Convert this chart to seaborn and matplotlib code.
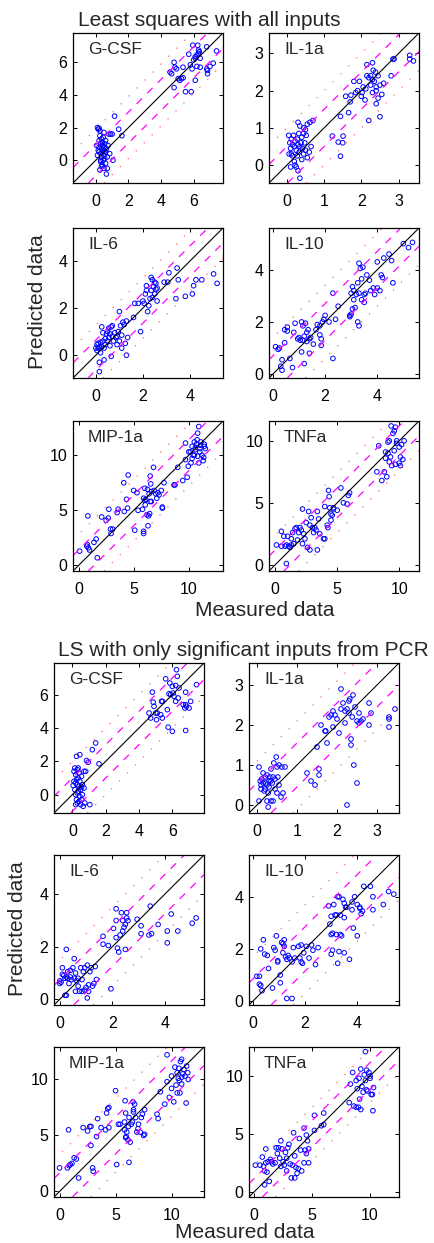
import numpy as np
import pandas as pd
import matplotlib.pyplot as plt
import seaborn as sns

## measured vs predicted cytokine levels
## each array is (measured, predicted) pairs

# --- Least squares with all inputs ---
gcsf_all = np.array([
    (0.05, 0.9), (0.1, 2.0), (0.15, 1.9), (0.2, 1.95), (0.25, 1.8), (0.1, 0.3), (0.15, 0.6), (0.2, 0.8),
    (0.2, 1.2), (0.25, 1.5), (0.3, 1.0), (0.3, 0.4), (0.3, -0.1), (0.35, 0.7), (0.35, 1.3), (0.35, 0.2),
    (0.4, 0.9), (0.4, 0.5), (0.4, -0.3), (0.4, 1.1), (0.45, 0.0), (0.45, 0.6), (0.45, 1.4), (0.5, 0.3),
    (0.5, 0.8), (0.5, -0.5), (0.55, 1.0), (0.55, 0.1), (0.6, 0.5), (0.6, 1.2), (0.6, -0.2), (0.65, 0.7),
    (0.65, -0.85), (0.7, 0.2), (0.7, -0.5), (0.75, 0.9), (0.8, 1.6), (0.85, 0.4), (0.9, 1.6), (1.0, 1.6),
    (1.05, 0.0), (1.15, 2.7), (1.4, 1.9), (1.6, 1.5), (0.25, -0.6), (0.3, 0.0), (0.5, 1.7), (0.2, 0.5),
    (0.55, 0.55), (0.35, -0.4),
    (4.55, 5.4), (4.65, 5.3), (4.8, 6.0), (4.85, 5.7), (4.8, 4.45), (4.95, 5.6), (5.05, 5.0), (5.15, 4.9),
    (5.25, 5.0), (5.35, 5.05), (5.35, 5.7), (5.5, 4.2), (5.7, 6.5), (5.8, 5.85), (5.85, 4.2), (5.9, 5.6),
    (5.95, 7.05), (6.0, 6.15), (6.1, 6.25), (6.1, 6.35), (6.2, 6.45), (6.25, 7.05), (6.3, 6.55), (6.35, 6.65),
    (6.3, 6.75), (6.2, 5.75), (6.4, 5.7), (6.1, 4.9), (6.4, 6.25), (6.8, 6.95), (6.8, 5.6), (6.85, 5.5),
    (6.85, 5.3), (7.0, 5.75), (7.2, 5.95), (7.4, 6.7)])

il1a_all = np.array([
    (0.05, 0.8), (0.08, 0.6), (0.1, 0.45), (0.12, 0.7), (0.12, 0.3), (0.15, 0.55), (0.15, 0.25), (0.18, 0.8),
    (0.2, 0.5), (0.2, 0.1), (0.22, 0.65), (0.25, 0.4), (0.25, -0.05), (0.28, 0.7), (0.28, 0.25), (0.3, 1.15),
    (0.3, 0.55), (0.3, -0.15), (0.32, 0.85), (0.33, 0.35), (0.35, -0.35), (0.35, 1.05), (0.38, 0.6), (0.4, 0.15),
    (0.4, 0.75), (0.42, 0.45), (0.45, 0.85), (0.45, 0.3), (0.48, 0.6), (0.5, 0.4), (0.5, 0.95), (0.52, 0.8),
    (0.55, 0.2), (0.55, 1.1), (0.6, 0.35), (0.62, 1.15), (0.65, 0.5), (0.7, 1.2), (0.1, -0.05), (0.22, 0.0),
    (0.06, 0.3), (0.35, 0.5), (0.45, 1.0),
    (1.22, 0.78), (1.38, 0.62), (1.51, 0.78), (1.5, 0.6), (1.44, 0.24), (1.44, 1.31), (1.58, 1.85), (1.66, 1.41),
    (1.7, 1.7), (1.72, 1.88), (1.8, 2.25), (1.85, 1.95), (1.9, 2.0), (1.95, 2.25), (2.0, 1.85), (2.02, 1.95),
    (2.05, 2.1), (2.1, 1.75), (2.12, 2.05), (2.15, 2.7), (2.2, 2.35), (2.2, 1.2), (2.25, 2.4), (2.25, 2.15),
    (2.3, 2.75), (2.3, 2.3), (2.32, 2.55), (2.35, 2.25), (2.38, 2.5), (2.4, 2.1), (2.4, 1.65), (2.45, 2.4),
    (2.45, 1.8), (2.5, 1.3), (2.5, 2.15), (2.55, 1.9), (2.6, 2.2), (2.4, 2.0), (2.8, 2.4), (2.85, 2.85),
    (2.88, 2.85), (3.3, 2.95), (3.3, 2.85), (3.4, 2.8), (2.3, 1.95), (2.15, 2.4)])

il6_all = np.array([
    (0.0, 0.3), (0.05, 0.45), (0.05, 0.2), (0.1, 0.5), (0.1, 0.3), (0.15, 0.35), (0.2, 0.55), (0.2, 0.1),
    (0.25, 1.2), (0.25, 0.35), (0.3, 0.95), (0.3, 0.6), (0.35, 0.3), (0.4, 0.7), (0.4, 0.45), (0.45, 0.9),
    (0.5, 1.0), (0.5, 0.6), (0.55, 1.15), (0.55, 0.75), (0.6, 0.9), (0.6, 0.4), (0.65, 1.2), (0.65, -0.05),
    (0.7, 0.8), (0.7, 1.25), (0.75, 0.6), (0.8, 0.95), (0.85, 0.75), (0.9, 0.8), (0.9, 0.45), (0.95, 1.0),
    (1.0, 0.6), (1.05, 1.25), (1.1, 0.85), (1.1, 0.3), (1.15, 1.4), (1.2, 1.3), (1.25, 0.5), (1.3, 1.45),
    (1.3, 0.0), (1.35, 0.75), (1.0, 1.85), (0.15, -0.3), (0.15, -0.7), (0.35, -0.2),
    (1.6, 1.6), (1.65, 2.2), (1.8, 2.2), (1.9, 1.0), (2.0, 2.3), (2.05, 2.2), (2.1, 2.6), (2.15, 2.95),
    (2.15, 2.75), (2.2, 1.85), (2.25, 2.1), (2.3, 2.4), (2.35, 3.3), (2.35, 2.75), (2.4, 3.2), (2.4, 2.45),
    (2.45, 2.9), (2.5, 3.1), (2.5, 2.6), (2.55, 2.8), (2.55, 3.05), (2.6, 2.3), (2.6, 2.85), (2.9, 3.1),
    (3.05, 3.1), (3.1, 3.5), (3.4, 2.4), (3.45, 3.7), (3.5, 3.2), (3.8, 2.5), (4.1, 2.6), (4.15, 2.95),
    (4.25, 3.2), (4.5, 3.2), (5.0, 3.45), (5.15, 3.05)])

il10_all = np.array([
    (0.1, 1.05), (0.2, 0.95), (0.25, 1.0), (0.3, 0.3), (0.35, 0.15), (0.35, 0.55), (0.45, 1.2), (0.45, 1.7),
    (0.55, 1.65), (0.55, 1.8), (0.65, 0.6), (0.75, 0.25), (0.8, 1.6), (0.85, 1.95), (0.95, 1.35), (1.0, 1.4),
    (1.05, 1.3), (1.1, 2.0), (1.1, 0.85), (1.15, 1.85), (1.15, 1.3), (1.2, 1.45), (1.2, 0.4), (1.25, 1.95),
    (1.3, 1.6), (1.3, 1.25), (1.35, 1.7), (1.4, 0.8), (1.4, 1.35), (1.45, 1.4), (1.55, 1.15), (1.65, 1.7),
    (1.7, 1.9), (1.8, 1.85), (1.8, 1.5), (1.85, 1.1), (1.85, 1.35), (1.9, 2.0), (1.95, 2.1), (2.0, 2.25),
    (2.15, 2.0), (2.3, 3.1), (2.3, 0.6), (2.4, 2.1), (2.5, 2.6), (2.95, 2.2), (3.0, 3.1), (3.0, 2.3),
    (3.05, 3.35), (3.05, 2.5), (3.1, 2.85), (3.1, 3.2), (3.15, 2.55), (3.2, 3.05), (3.25, 3.5), (3.25, 2.0),
    (3.3, 1.85), (3.3, 4.25), (3.3, 3.1), (3.35, 4.05), (3.4, 3.65), (3.45, 4.1), (3.5, 2.75), (3.5, 3.05),
    (3.55, 3.1), (3.6, 3.8), (3.7, 3.6), (3.75, 3.2), (3.85, 3.3), (3.9, 3.05), (4.0, 4.3), (4.0, 3.3),
    (4.1, 3.2), (4.15, 3.8), (4.2, 3.7), (4.25, 4.45), (4.45, 4.6), (4.55, 4.35), (4.6, 3.5), (5.0, 5.0),
    (5.2, 4.85), (5.35, 5.05), (2.95, 2.25), (3.4, 2.85)])

mip1a_all = np.array([
    (0.1, 1.3), (0.75, 1.75), (0.8, 1.9), (0.85, 4.5), (0.9, 1.6), (1.0, 1.4), (1.4, 2.1), (1.6, 2.4),
    (1.7, 0.7), (2.1, 4.4), (2.5, 4.1), (2.7, 4.3), (2.75, 5.1), (2.9, 3.3), (2.95, 2.9), (3.1, 3.3),
    (3.5, 4.8), (3.6, 5.1), (4.15, 4.9), (4.1, 7.5), (4.35, 6.0), (4.45, 5.2), (4.5, 8.2), (5.0, 6.8),
    (5.1, 3.2), (5.3, 6.6), (5.4, 5.0), (5.8, 5.1), (5.9, 6.1), (5.9, 2.9), (5.9, 3.1), (6.0, 5.9),
    (6.0, 7.0), (6.05, 5.5), (6.1, 6.0), (6.2, 4.6), (6.25, 6.9), (6.3, 3.6), (6.35, 4.5), (6.4, 6.5),
    (6.45, 4.7), (6.5, 8.1), (6.5, 5.8), (6.55, 7.4), (6.6, 6.7), (6.6, 5.8), (6.8, 8.9), (6.85, 6.8),
    (7.0, 6.5), (7.1, 6.1), (7.2, 6.6), (7.3, 6.4), (7.5, 6.8), (7.6, 5.2), (7.6, 5.3), (7.75, 7.5),
    (8.65, 7.3), (8.75, 7.3), (9.0, 8.9), (9.45, 7.7), (9.7, 9.6), (9.7, 11.1), (9.85, 8.0), (9.95, 9.0),
    (10.0, 10.3), (10.15, 10.3), (10.2, 9.3), (10.3, 10.8), (10.3, 9.7), (10.4, 10.0), (10.5, 11.2), (10.5, 10.0),
    (10.6, 10.5), (10.7, 11.0), (10.75, 11.4), (10.8, 9.9), (10.8, 12.0), (10.9, 12.6), (10.9, 9.3), (11.0, 10.3),
    (11.05, 10.9), (11.1, 11.2), (11.2, 10.0), (11.3, 9.5), (11.35, 9.8), (11.4, 10.8), (11.4, 11.0), (11.5, 10.6),
    (10.6, 10.7), (11.0, 10.6)])

tnfa_all = np.array([
    (0.1, 1.6), (0.5, 1.5), (0.5, 2.7), (0.7, 2.3), (0.8, 1.5), (0.9, 0.1), (0.9, 1.6), (1.0, 2.3),
    (1.1, 1.5), (1.2, 1.4), (1.3, 1.6), (1.3, 2.1), (1.4, 2.6), (1.5, 1.7), (1.6, 2.9), (1.7, 3.0),
    (1.8, 2.0), (1.9, 2.6), (2.0, 3.0), (2.1, 2.8), (2.2, 4.5), (2.2, 1.7), (2.3, 2.5), (2.4, 2.1),
    (2.5, 3.4), (2.6, 1.4), (2.7, 4.3), (2.8, 3.2), (2.8, 1.2), (2.9, 3.8), (3.0, 3.0), (3.1, 2.6),
    (3.2, 3.0), (3.3, 2.8), (3.4, 1.2), (3.4, 4.3), (3.5, 3.7), (3.6, 2.5), (3.9, 2.1), (4.0, 2.1),
    (4.0, 4.7), (4.2, 3.2), (4.25, 3.0), (4.3, 6.0), (4.35, 5.5), (4.4, 4.6), (4.5, 4.1), (4.5, 3.6),
    (4.6, 4.0), (4.7, 4.6), (4.7, 4.5), (5.0, 4.4), (5.3, 6.2), (5.5, 5.0), (5.8, 4.9), (5.9, 5.6),
    (6.0, 5.8), (8.2, 7.5), (8.35, 9.6), (8.6, 6.8), (8.8, 7.5), (8.9, 9.1), (8.9, 8.6), (9.0, 7.1),
    (9.1, 9.0), (9.1, 9.9), (9.2, 8.3), (9.2, 10.0), (9.3, 8.7), (9.35, 11.2), (9.4, 8.0), (9.5, 10.6),
    (9.6, 9.2), (9.6, 10.8), (9.7, 8.1), (9.7, 11.1), (9.8, 9.8), (9.8, 10.0), (10.0, 8.2), (10.0, 9.5),
    (10.1, 8.7), (10.1, 8.0), (10.2, 9.7), (10.3, 8.5), (10.4, 10.0)])

# --- LS with only significant inputs from PCR ---
gcsf_pcr = np.array([
    (0.05, 0.55), (0.1, 1.4), (0.1, 0.8), (0.15, 1.6), (0.15, 0.3), (0.2, 1.2), (0.2, 0.0), (0.2, -0.6),
    (0.25, 2.3), (0.25, 0.9), (0.25, -0.3), (0.3, 0.6), (0.3, 1.5), (0.3, -0.5), (0.35, 1.0), (0.35, 0.2),
    (0.4, 0.5), (0.4, 1.3), (0.45, -0.1), (0.45, 2.4), (0.45, 0.8), (0.5, 0.3), (0.5, -0.6), (0.55, 1.1),
    (0.55, -0.3), (0.6, 0.6), (0.6, 0.0), (0.65, -0.7), (0.7, 0.4), (0.7, 1.4), (0.75, -0.5), (0.8, 1.4),
    (0.85, 2.05), (0.95, 1.95), (1.05, -0.6), (1.2, 2.7), (1.4, 3.1), (1.6, 1.85), (0.35, 1.6), (0.2, 0.7),
    (0.4, -0.4), (0.55, 0.45), (0.3, 0.1),
    (4.6, 4.9), (4.7, 4.6), (4.8, 6.15), (4.85, 5.55), (4.9, 5.3), (5.0, 4.9), (5.05, 4.5), (5.1, 4.9),
    (5.3, 4.8), (5.35, 5.6), (5.4, 5.6), (5.4, 4.6), (5.6, 6.95), (5.7, 5.1), (5.75, 4.05), (5.8, 6.05),
    (5.85, 6.7), (5.9, 6.0), (6.0, 6.5), (6.0, 3.8), (6.05, 6.1), (6.1, 5.9), (6.2, 6.55), (6.2, 5.6),
    (6.25, 7.5), (6.3, 7.1), (6.35, 5.8), (6.4, 6.4), (6.65, 5.4), (6.75, 5.2), (6.8, 6.15), (6.8, 3.85),
    (6.85, 5.3), (7.0, 5.2), (7.1, 5.6), (7.45, 6.6), (6.8, 5.4)])

il1a_pcr = np.array([
    (0.05, 0.1), (0.05, 0.95), (0.08, 0.6), (0.1, 0.4), (0.1, 0.5), (0.12, 0.65), (0.15, 0.8), (0.15, 0.55),
    (0.2, 0.7), (0.2, 0.4), (0.22, 0.55), (0.25, 0.1), (0.25, 0.75), (0.28, -0.05), (0.28, 0.3), (0.3, 0.6),
    (0.3, 0.45), (0.32, 0.7), (0.35, 0.9), (0.35, 0.1), (0.38, 0.55), (0.4, 0.7), (0.4, 0.1), (0.42, 1.05),
    (0.45, 0.4), (0.45, 0.65), (0.48, 1.2), (0.5, 0.3), (0.5, 0.95), (0.52, 0.7), (0.55, 1.0), (0.55, 0.5),
    (0.6, 0.2), (0.62, 0.95), (0.65, 0.3), (0.7, 0.95), (0.18, 0.35), (0.35, 0.6), (0.25, 0.5),
    (1.25, 0.8), (1.35, 0.6), (1.45, 0.5), (1.5, 1.45), (1.55, 0.9), (1.55, 0.75), (1.6, 2.0), (1.7, 1.85),
    (1.72, 1.85), (1.75, 1.55), (1.8, 2.2), (1.85, 2.25), (1.9, 2.35), (1.9, 1.95), (1.95, 2.25),
    (2.0, 2.15), (2.05, 1.8), (2.1, 2.9), (2.1, 2.4), (2.15, 2.55), (2.2, 2.05), (2.2, 2.35), (2.25, 2.4),
    (2.25, 0.0), (2.3, 2.3), (2.3, 2.6), (2.32, 2.65), (2.35, 1.65), (2.35, 1.5), (2.38, 2.2), (2.4, 2.75),
    (2.42, 1.0), (2.45, 2.45), (2.5, 2.1), (2.5, 0.55), (2.55, 2.05), (2.55, 2.3), (2.6, 2.1), (2.65, 2.15),
    (2.8, 2.55), (2.8, 2.0), (2.85, 2.3), (3.3, 2.2), (3.3, 2.15), (3.3, 1.95), (3.45, 2.4)])

il6_pcr = np.array([
    (0.0, 0.6), (0.0, 0.7), (0.05, 0.65), (0.1, 1.2), (0.15, 0.9), (0.2, 0.8), (0.2, 0.15), (0.25, 1.9),
    (0.25, 0.15), (0.3, 0.8), (0.3, 1.05), (0.35, 0.6), (0.4, 0.85), (0.4, 1.1), (0.45, 0.75), (0.5, 1.2),
    (0.55, 1.55), (0.55, 0.8), (0.6, 0.3), (0.65, 0.7), (0.7, 0.5), (0.7, 0.8), (0.75, 0.3), (0.8, 1.2),
    (0.85, 0.3), (0.85, 0.75), (0.9, 1.05), (0.95, 1.2), (0.95, 0.35), (1.0, 0.45), (1.05, 1.3), (1.05, 0.05),
    (1.1, 0.55), (1.1, 0.3), (1.15, 1.05), (1.2, 1.2), (1.25, 0.5), (1.3, 0.6), (1.35, 1.25), (1.4, 0.75),
    (0.1, 0.95), (0.6, 1.0), (0.25, 0.85),
    (1.65, 2.4), (1.65, 2.1), (1.85, 2.05), (1.95, 0.4), (2.05, 2.7), (2.15, 3.0), (2.15, 3.45), (2.15, 2.35),
    (2.2, 1.95), (2.25, 1.8), (2.3, 2.45), (2.35, 3.3), (2.4, 2.6), (2.4, 3.0), (2.45, 2.75), (2.5, 2.85),
    (2.5, 1.9), (2.55, 3.3), (2.55, 3.1), (2.6, 3.0), (2.95, 3.05), (3.1, 2.8), (3.1, 2.5), (3.4, 2.45),
    (3.45, 3.55), (3.5, 2.5), (3.75, 2.85), (4.1, 2.6), (4.1, 2.15), (4.25, 3.25), (4.5, 2.6), (5.05, 2.9),
    (5.2, 3.1)])

il10_pcr = np.array([
    (0.15, 0.95), (0.25, 0.95), (0.25, 0.65), (0.3, 0.6), (0.3, 2.0), (0.35, 0.4), (0.4, 2.35), (0.45, 1.8),
    (0.55, 1.75), (0.6, 1.25), (0.75, 0.5), (0.8, 2.05), (0.85, 1.95), (0.9, 2.5), (0.95, 1.5), (0.95, 1.55),
    (1.05, 1.0), (1.05, 0.7), (1.1, 2.25), (1.15, 2.2), (1.15, 1.85), (1.2, 2.35), (1.2, 2.1), (1.25, 1.7),
    (1.3, 1.6), (1.3, 0.1), (1.35, 1.75), (1.4, 1.65), (1.5, 0.1), (1.5, 1.5), (1.55, 2.05), (1.6, 1.65),
    (1.75, 2.1), (1.8, 1.65), (1.85, 1.5), (1.85, 2.15), (1.9, 1.45), (1.95, 1.85), (2.05, 2.1), (2.15, 1.65),
    (2.25, 2.15), (2.3, 1.95), (2.4, 1.4), (2.5, 2.05), (2.9, 3.65), (2.95, 2.95), (3.0, 2.55), (3.0, 3.25),
    (3.0, 1.8), (3.05, 1.95), (3.05, 2.6), (3.1, 3.7), (3.15, 3.3), (3.2, 2.55), (3.2, 3.3), (3.25, 4.0),
    (3.25, 1.45), (3.3, 1.9), (3.3, 4.0), (3.35, 3.3), (3.35, 2.55), (3.4, 2.5), (3.45, 3.9), (3.5, 3.2),
    (3.5, 3.75), (3.5, 1.85), (3.55, 3.6), (3.6, 3.6), (3.7, 1.6), (3.8, 3.5), (3.8, 3.8), (3.85, 2.8),
    (3.9, 4.0), (4.0, 3.7), (4.0, 2.5), (4.1, 3.55), (4.15, 3.35), (4.2, 3.45), (4.25, 4.4), (4.5, 4.4),
    (4.6, 4.0), (4.6, 3.5), (5.0, 3.7), (5.2, 4.2), (5.4, 4.1), (4.1, 3.6)])

mip1a_pcr = np.array([
    (0.0, 2.1), (0.7, 2.1), (0.8, 5.5), (0.85, 2.3), (0.95, 2.4), (1.1, 2.5), (1.3, 3.0), (1.5, 2.9),
    (1.7, 1.2), (2.1, 5.7), (2.5, 5.4), (2.7, 5.8), (2.8, 5.8), (2.8, 4.1), (2.95, 2.1), (3.0, 1.8),
    (3.3, 4.9), (3.4, 6.5), (3.7, 5.7), (4.1, 5.5), (4.2, 7.0), (4.3, 7.4), (4.4, 7.5), (4.4, 5.7),
    (5.0, 9.0), (5.1, 2.4), (5.25, 6.0), (5.4, 6.0), (5.8, 6.2), (5.8, 5.5), (5.85, 8.1), (5.9, 7.0),
    (5.9, 4.8), (5.95, 4.9), (6.0, 5.3), (6.1, 4.6), (6.15, 5.8), (6.2, 6.6), (6.2, 2.6), (6.3, 4.4),
    (6.4, 6.0), (6.5, 6.2), (6.55, 8.0), (6.6, 7.3), (6.6, 7.1), (6.7, 7.8), (6.8, 6.6), (6.9, 5.3),
    (7.0, 5.6), (7.05, 6.0), (7.2, 5.3), (7.3, 6.6), (7.4, 6.9), (7.5, 5.0), (7.6, 7.3), (7.6, 5.1),
    (8.7, 6.9), (8.8, 6.5), (9.0, 8.9), (9.4, 7.8), (9.6, 9.8), (9.6, 12.2), (9.8, 8.4), (10.0, 10.3),
    (10.0, 9.2), (10.2, 8.0), (10.3, 11.1), (10.4, 9.5), (10.5, 10.6), (10.5, 8.8), (10.6, 10.1), (10.65, 11.0),
    (10.7, 9.9), (10.75, 8.8), (10.8, 11.6), (10.9, 11.8), (10.9, 9.6), (10.9, 10.2), (11.0, 10.5), (11.1, 10.9),
    (11.2, 10.3), (11.3, 7.9), (11.35, 11.2), (11.45, 10.6), (11.5, 10.0)])

tnfa_pcr = np.array([
    (0.1, 2.3), (0.5, 2.3), (0.7, 3.0), (0.8, 2.2), (0.9, 0.6), (0.9, 1.8), (1.0, 2.5), (1.0, 3.7),
    (1.1, 1.7), (1.2, 2.6), (1.3, 0.9), (1.4, 2.8), (1.5, 2.6), (1.6, 2.4), (1.8, 2.5), (1.9, 3.8),
    (2.0, 3.3), (2.1, 3.8), (2.2, 2.9), (2.3, 4.4), (2.3, 2.2), (2.4, 3.7), (2.5, 2.6), (2.6, 2.3),
    (2.7, 3.4), (2.8, 1.8), (2.8, 2.9), (2.9, 3.8), (3.0, 4.1), (3.1, 2.4), (3.2, 1.2), (3.3, 2.3),
    (3.4, 5.1), (3.5, 3.1), (3.5, 1.2), (3.6, 2.1), (3.7, 1.6), (3.8, 2.0), (3.9, 4.6), (4.0, 3.6),
    (4.1, 1.8), (4.3, 5.5), (4.3, 2.5), (4.4, 3.6), (4.5, 4.9), (4.5, 3.3), (4.6, 4.4), (4.7, 3.7),
    (4.7, 2.5), (5.2, 5.3), (5.2, 6.6), (5.8, 5.7), (6.0, 6.8), (6.0, 5.8), (8.2, 7.7), (8.3, 9.3),
    (8.5, 10.3), (8.6, 7.4), (8.8, 7.3), (8.8, 9.6), (8.9, 8.9), (9.0, 7.3), (9.05, 9.8), (9.1, 8.0),
    (9.2, 10.6), (9.2, 7.1), (9.3, 9.1), (9.4, 8.6), (9.5, 10.1), (9.6, 9.6), (9.6, 12.1), (9.7, 10.5),
    (9.7, 8.8), (9.8, 8.7), (9.9, 10.3), (10.0, 10.0), (10.1, 8.4), (10.2, 8.4), (10.25, 7.0), (10.3, 9.0),
    (10.0, 9.8)])

cytokines = ['G-CSF', 'IL-1a', 'IL-6', 'IL-10', 'MIP-1a', 'TNFa']
data_all = [gcsf_all, il1a_all, il6_all, il10_all, mip1a_all, tnfa_all]
data_pcr = [gcsf_pcr, il1a_pcr, il6_pcr, il10_pcr, mip1a_pcr, tnfa_pcr]

# axis range (same for x and y), tick values, width of the dashed band
lims_all = [(-1.4, 7.8), (-0.48, 3.55), (-0.97, 5.4), (-0.15, 5.6), (-0.5, 13.1), (-0.5, 11.6)]
lims_pcr = [(-1.1, 7.9), (-0.2, 3.55), (-0.22, 5.5), (-0.15, 5.6), (-0.5, 12.9), (-0.45, 12.5)]
ticks = [[0, 2, 4, 6], [0, 1, 2, 3], [0, 2, 4], [0, 2, 4], [0, 5, 10], [0, 5, 10]]
band_all = [0.95, 0.5, 0.64, 0.7, 1.4, 1.2]
band_pcr = [1.0, 0.55, 0.75, 0.85, 1.65, 1.15]

sns.set_style('ticks')
plt.rcParams['font.family'] = ['Liberation Sans', 'DejaVu Sans']

W, H = 435, 1243
fig = plt.figure(figsize=(W / 100, H / 100), dpi=100)


def panel(left, top, size=150):
    return fig.add_axes([left / W, 1 - (top + size) / H, size / W, size / H])


def draw(ax, pts, name, lim, tk, band):
    df = pd.DataFrame(pts, columns=['measured', 'predicted'])
    sns.scatterplot(data=df, x='measured', y='predicted', ax=ax, marker='o', s=11,
                    facecolor='none', edgecolor='blue', linewidth=0.7, legend=False)
    ax.axline((0, 0), slope=1, color='black', lw=0.8)
    for k in (-1, 1):
        ax.axline((0, k * band), slope=1, color='magenta', lw=0.9, dashes=(6, 6))
        ax.axline((0, 2 * k * band), slope=1, color='red', lw=0.9, alpha=0.6,
                  linestyle=(0, (1, 8)))
    ax.set_xlim(lim)
    ax.set_ylim(lim)
    ax.set_xticks(tk)
    ax.set_yticks(tk)
    ax.tick_params(direction='in', top=True, right=True, length=3, width=0.7,
                   labelsize=11.5, colors='black')
    ax.tick_params(axis='x', pad=8)
    ax.tick_params(axis='y', pad=4)
    ax.set_xlabel('')
    ax.set_ylabel('')
    for sp in ax.spines.values():
        sp.set_linewidth(0.9)
        sp.set_color('black')
    ax.text(0.1, 0.89, name, transform=ax.transAxes, fontsize=12.5, va='center', ha='left')


# top block: least squares with all inputs
for i in range(6):
    ax = panel([73, 269][i % 2], [33, 228, 421][i // 2])
    draw(ax, data_all[i], cytokines[i], lims_all[i], ticks[i], band_all[i])

# bottom block: LS with PCR-selected inputs
for i in range(6):
    ax = panel([54, 249][i % 2], [663, 855, 1047][i // 2])
    draw(ax, data_pcr[i], cytokines[i], lims_pcr[i], ticks[i], band_pcr[i])

fig.text(209 / W, 1 - 20 / H, 'Least squares with all inputs', ha='center', va='center', fontsize=15)
fig.text(265 / W, 1 - 610 / H, 'Measured data', ha='center', va='center', fontsize=15)
fig.text(38 / W, 1 - 302 / H, 'Predicted data', ha='center', va='center', rotation=90, fontsize=15)

fig.text(243 / W, 1 - 650 / H, 'LS with only significant inputs from PCR', ha='center', va='center', fontsize=15)
fig.text(245 / W, 1 - 1233 / H, 'Measured data', ha='center', va='center', fontsize=15)
fig.text(18 / W, 1 - 929 / H, 'Predicted data', ha='center', va='center', rotation=90, fontsize=15)

fig.savefig('out.png', dpi=100, facecolor='white')
